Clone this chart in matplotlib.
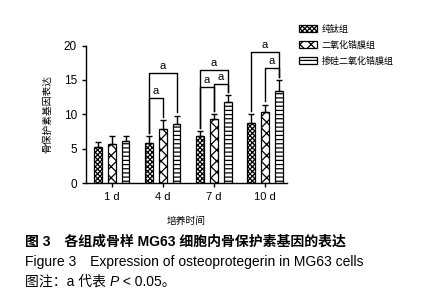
import numpy as np
import matplotlib.pyplot as plt

plt.rcParams['font.family'] = ['Liberation Sans', 'Noto Sans CJK SC', 'DejaVu Sans']
plt.rcParams['hatch.linewidth'] = 0.9

days = ['1 d', '4 d', '7 d', '10 d']
groups = ['纯钛组', '二氧化锆膜组', '掺硅二氧化锆膜组']
means = [
    [5.2, 5.8, 6.8, 8.8],
    [5.7, 7.9, 9.3, 10.3],
    [6.1, 8.6, 11.8, 13.4],
]
errs = [
    [0.8, 1.0, 0.7, 1.2],
    [1.2, 1.2, 0.7, 1.1],
    [0.7, 1.2, 1.0, 1.6],
]
# (day index, bar a, bar b, bracket height)
brackets = [
    (1, 0, 2, 16.0), (1, 0, 1, 12.4),
    (2, 0, 2, 16.4), (2, 0, 1, 14.0), (2, 1, 2, 14.4),
    (3, 0, 2, 19.0), (3, 1, 2, 16.7),
]
hatches = ['xxxxxxx', 'xxx', '----']

fig = plt.figure(figsize=(4.25, 3), dpi=100)
ax = fig.add_axes([0.202, 0.39, 0.473, 0.458])

x = np.arange(len(days))
off = 0.27
w = 0.15
for i in range(3):
    ax.bar(x + (i - 1) * off, means[i], w, color='white', edgecolor='black',
           hatch=hatches[i], linewidth=0.9, label=groups[i],
           yerr=[np.zeros(4), errs[i]], error_kw=dict(ecolor='black', elinewidth=1, capsize=2.5, capthick=1))

for d, a, b, h in brackets:
    xa = d + (a - 1) * off
    xb = d + (b - 1) * off
    ya = means[a][d] + errs[a][d] + 0.5
    yb = means[b][d] + errs[b][d] + 0.5
    ax.plot([xa, xa, xb, xb], [ya, h, h, yb], color='black', lw=1)
    ax.text((xa + xb) / 2, h + 0.3, 'a', ha='center', va='bottom', fontsize=8)

ax.set_xlim(-0.51, 3.43)
ax.set_ylim(0, 20)
ax.set_yticks([0, 5, 10, 15, 20])
ax.set_xticks(x)
ax.set_xticklabels(days, fontsize=8)
ax.tick_params(axis='y', labelsize=8.5, length=3, width=1)
ax.tick_params(axis='x', length=3, width=1)
ax.spines['top'].set_visible(False)
ax.spines['right'].set_visible(False)
ax.spines['left'].set_linewidth(1)
ax.spines['bottom'].set_linewidth(1)
ax.set_ylabel('骨保护素基因表达', fontsize=7, labelpad=8)
ax.set_xlabel('培养时间', fontsize=7, labelpad=10)

ax.legend(loc='upper left', bbox_to_anchor=(1.04, 1.18), frameon=False, fontsize=6.5,
          handlelength=2.1, handleheight=0.9, labelspacing=0.75, borderaxespad=0,
          handletextpad=0.5)

fig.text(0.059, 0.18, '图 3　各组成骨样 MG63 细胞内骨保护素基因的表达', fontsize=10, fontweight='bold')
fig.text(0.059, 0.113, 'Figure 3　Expression of osteoprotegerin in MG63 cells', fontsize=10)

# footnote with italic P, laid out piece by piece
renderer = fig.canvas.get_renderer()
xpos = 0.059
for piece, style in [('图注：a 代表 ', 'normal'), ('P', 'italic'), (' < 0.05。', 'normal')]:
    t = fig.text(xpos, 0.047, piece, fontsize=10, style=style)
    bb = t.get_window_extent(renderer=renderer)
    xpos += bb.width / fig.bbox.width

fig.savefig('out.png', dpi=100)
